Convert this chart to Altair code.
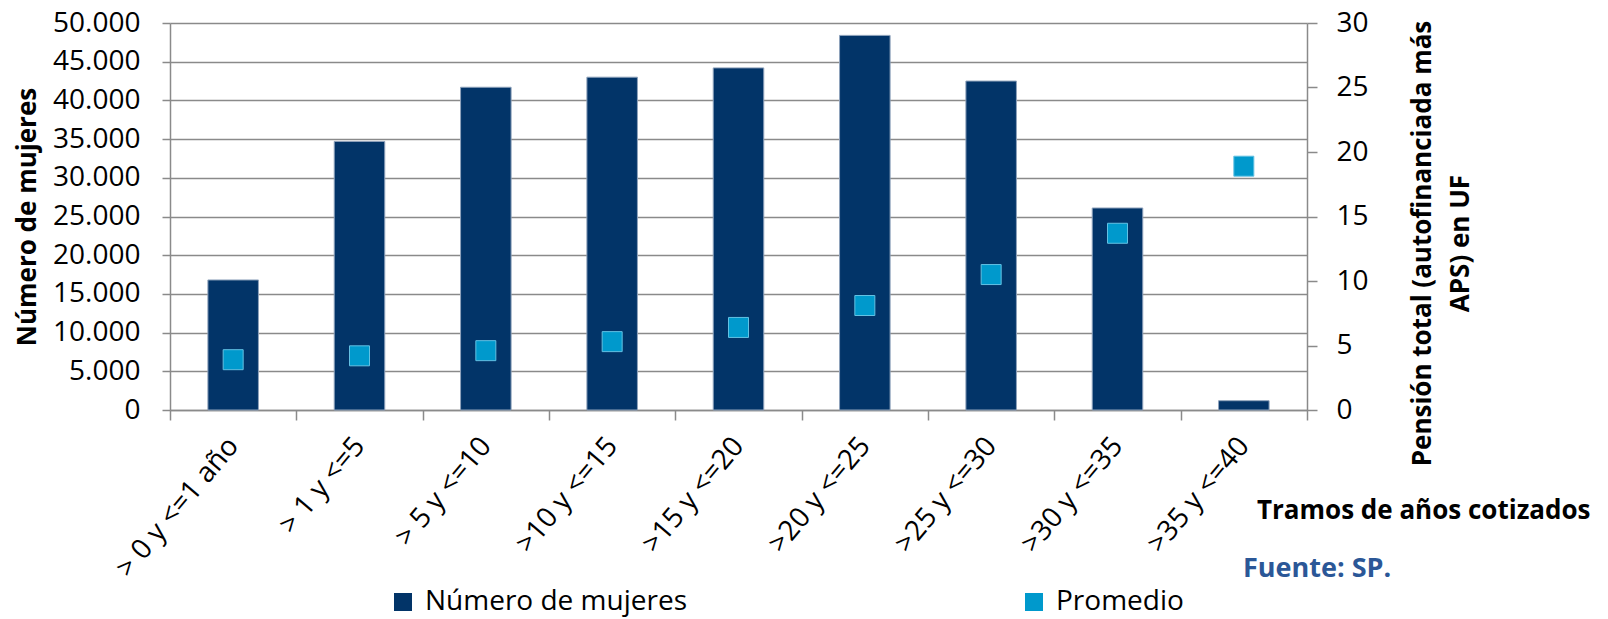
import altair as alt
import pandas as pd

categories = ["> 0 y <=1 año", "> 1 y <=5", "> 5 y <=10", ">10 y <=15", ">15 y <=20",
              ">20 y <=25", ">25 y <=30", ">30 y <=35", ">35 y <=40"]
mujeres = [16800, 34700, 41700, 43000, 44200, 48400, 42500, 26100, 1200]
promedio = [3.9, 4.2, 4.6, 5.3, 6.4, 8.1, 10.5, 13.7, 18.9]
series = ["Número de mujeres", "Promedio"]
colors = ["#023468", "#0099CC"]
left_ticks = [0, 5000, 10000, 15000, 20000, 25000, 30000, 35000, 40000, 45000, 50000]
right_ticks = [0, 5, 10, 15, 20, 25, 30]

df = pd.DataFrame({"tramo": categories, "mujeres": mujeres, "promedio": promedio})

FONT = "Open Sans"
GRAY = "#8A8A8A"

x = alt.X(
    "tramo:N", sort=categories,
    scale=alt.Scale(paddingInner=0, paddingOuter=0),
    axis=alt.Axis(
        title="Tramos de años cotizados", titleX=1420, titleY=100, titleAlign="right",
        titleBaseline="middle", titleAngle=0, titleFontSize=26, titleFontWeight="bold",
        titleColor="black", titleLimit=1000,
        labelAngle=310, labelAlign="right", labelBaseline="middle", labelFontSize=28,
        labelPadding=21, labelLimit=500, labelOverlap=False, labelColor="black",
        tickBand="extent", tickSize=10, tickColor=GRAY, domainColor=GRAY,
        tickWidth=1.5, domainWidth=1.5,
    ),
)

color = alt.Color(
    "serie:N",
    scale=alt.Scale(domain=series, range=colors),
    legend=alt.Legend(
        title=None, orient="none", legendX=219, legendY=565, direction="horizontal",
        columns=2, columnPadding=333, symbolType="square", symbolSize=324,
        labelFontSize=28, labelFont=FONT, labelColor="black", labelOffset=8,
        symbolStrokeWidth=0, labelLimit=600,
    ),
)

left_axis = alt.Axis(
    orient="left", title="Número de mujeres", titleFontSize=26, titleFontWeight="bold",
    titleColor="black", titleX=-135, titleY=193.5, titleAngle=270, titleAlign="center",
    titleBaseline="alphabetic", titleLimit=1000,
    values=left_ticks, labelExpr="replace(format(datum.value, ','), ',', '.')",
    labelFontSize=28, labelPadding=22, labelColor="black",
    tickSize=8, tickColor=GRAY, tickWidth=1.5, domainColor=GRAY, domainWidth=1.5,
    grid=True, gridColor=GRAY, gridWidth=1.5,
)

right_axis = alt.Axis(
    orient="right", title=["Pensión total (autofinanciada más", "APS) en UF"],
    titleFontSize=26, titleFontWeight="bold", titleColor="black",
    titleX=123, titleY=220, titleAngle=270, titleAlign="center",
    titleBaseline="alphabetic", titleLineHeight=38, titleLimit=1000,
    values=right_ticks, labelFontSize=28, labelPadding=19, labelColor="black",
    tickSize=10, tickColor=GRAY, tickWidth=1.5, domainColor=GRAY, domainWidth=1.5,
    grid=False,
)

bars = alt.Chart(df).transform_calculate(serie="'Número de mujeres'").mark_bar(
    width=alt.RelativeBandSize(0.4), stroke="#8EA2BB", strokeWidth=1
).encode(
    x=x,
    y=alt.Y("mujeres:Q", scale=alt.Scale(domain=[0, 50000], nice=False), axis=left_axis),
    color=color,
)

points = alt.Chart(df).transform_calculate(serie="'Promedio'").mark_square(
    size=400, opacity=1, stroke="#63C1E3", strokeWidth=1
).encode(
    x=x,
    y=alt.Y("promedio:Q", scale=alt.Scale(domain=[0, 30], nice=False), axis=right_axis),
    color=color,
)

note = alt.Chart(pd.DataFrame({"t": ["Fuente: SP."]})).mark_text(
    align="left", baseline="middle", fontSize=27, fontWeight="bold", color="#2B5797", font=FONT
).encode(x=alt.value(1073), y=alt.value(546), text="t:N")

chart = alt.layer(bars, points, note).resolve_scale(y="independent").properties(
    width=1137, height=387,
    autosize=alt.AutoSizeParams(type="none"),
    padding={"left": 162, "top": 15, "right": 292, "bottom": 209},
).configure(font=FONT).configure_view(stroke=None)

chart.save("out.html", embed_options={"renderer": "svg", "actions": False})
